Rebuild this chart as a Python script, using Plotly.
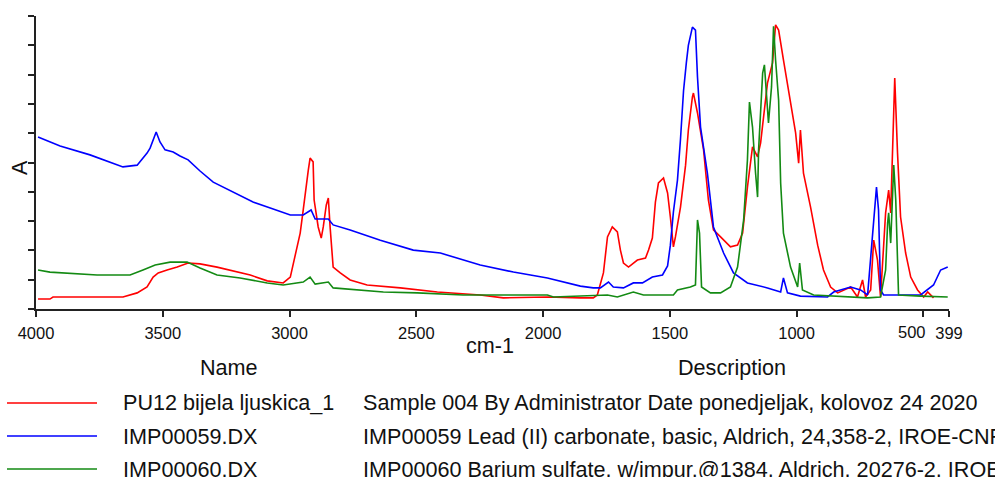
import plotly.graph_objects as go

# ---------------- data ----------------
x_tick_vals = [4000, 3500, 3000, 2500, 2000, 1500, 1000, 500, 399]
x_tick_text = ["4000", "3500", "3000", "2500", "2000", "1500", "1000", "500", "399"]

names = ["PU12 bijela ljuskica_1", "IMP00059.DX", "IMP00060.DX"]
descriptions = [
    "Sample 004 By Administrator Date ponedjeljak, kolovoz 24 2020",
    "IMP00059 Lead (II) carbonate, basic, Aldrich, 24,358-2, IROE-CNR",
    "IMP00060 Barium sulfate, w/impur.@1384, Aldrich, 20276-2, IROE-CNR",
]

# Blue: IMP00059 (lead carbonate)
blue_wn = [3992, 3905, 3787, 3708, 3657, 3601, 3562, 3550, 3538, 3526, 3511, 3491, 3459,
           3432, 3400, 3353, 3301, 3222, 3144, 3076, 2997, 2946, 2915, 2899, 2847, 2828,
           2761, 2642, 2512, 2405, 2248, 2117, 1983, 1853, 1802, 1774, 1742, 1723, 1683,
           1644, 1608, 1569, 1529, 1509, 1498, 1486, 1470, 1458, 1446, 1435, 1427, 1411,
           1399, 1391, 1379, 1352, 1328, 1288, 1249, 1194, 1115, 1063, 1052, 1036, 985,
           878, 854, 787, 748, 720, 708, 696, 685, 677, 669, 657, 511, 460, 432, 404]
blue_a = [0.587, 0.556, 0.526, 0.502, 0.485, 0.491, 0.532, 0.549, 0.577, 0.604, 0.570, 0.543,
          0.536, 0.522, 0.509, 0.471, 0.433, 0.399, 0.365, 0.345, 0.321, 0.321, 0.338, 0.307,
          0.307, 0.287, 0.270, 0.235, 0.201, 0.191, 0.150, 0.126, 0.106, 0.078, 0.072, 0.072,
          0.092, 0.075, 0.072, 0.089, 0.089, 0.109, 0.116, 0.147, 0.218, 0.331, 0.440, 0.580,
          0.745, 0.840, 0.900, 0.962, 0.952, 0.792, 0.621, 0.464, 0.280, 0.191, 0.123, 0.089,
          0.072, 0.058, 0.106, 0.055, 0.044, 0.041, 0.058, 0.075, 0.065, 0.048, 0.177, 0.321,
          0.416, 0.338, 0.065, 0.048, 0.048, 0.082, 0.133, 0.143]

# Red: PU12 bijela ljuskica_1 (sample)
red_wn = [3992, 3945, 3933, 3657, 3601, 3562, 3538, 3518, 3483, 3443, 3400, 3353, 3286,
          3222, 3155, 3088, 3025, 2997, 2978, 2958, 2946, 2934, 2926, 2919, 2907, 2903,
          2887, 2875, 2867, 2855, 2847, 2840, 2828, 2800, 2761, 2694, 2563, 2417, 2248,
          2157, 1983, 1853, 1802, 1786, 1762, 1746, 1727, 1707, 1695, 1683, 1663, 1628,
          1596, 1584, 1569, 1557, 1545, 1525, 1509, 1498, 1486, 1478, 1458, 1438, 1427,
          1411, 1407, 1391, 1367, 1348, 1328, 1300, 1261, 1233, 1213, 1194, 1174, 1154,
          1142, 1115, 1095, 1083, 1071, 1052, 1024, 1004, 992, 985, 973, 945, 917, 894,
          866, 838, 787, 760, 740, 728, 708, 696, 681, 669, 649, 637, 629, 617, 613, 602,
          590, 570, 550, 523, 499, 483, 460]
red_a = [0.034, 0.034, 0.041, 0.041, 0.055, 0.075, 0.109, 0.123, 0.133, 0.143, 0.157, 0.154,
         0.143, 0.130, 0.116, 0.096, 0.089, 0.109, 0.177, 0.259, 0.338, 0.430, 0.474, 0.515,
         0.502, 0.372, 0.280, 0.242, 0.280, 0.355, 0.379, 0.280, 0.143, 0.123, 0.099, 0.082,
         0.072, 0.058, 0.048, 0.038, 0.041, 0.038, 0.038, 0.048, 0.123, 0.246, 0.280, 0.263,
         0.201, 0.157, 0.143, 0.167, 0.174, 0.201, 0.242, 0.365, 0.430, 0.447, 0.396, 0.314,
         0.212, 0.246, 0.348, 0.491, 0.611, 0.724, 0.737, 0.669, 0.543, 0.372, 0.270, 0.246,
         0.212, 0.218, 0.259, 0.416, 0.553, 0.519, 0.567, 0.771, 0.840, 0.970, 0.952, 0.850,
         0.713, 0.601, 0.498, 0.611, 0.464, 0.348, 0.218, 0.133, 0.075, 0.055, 0.075, 0.041,
         0.099, 0.041, 0.065, 0.235, 0.167, 0.041, 0.328, 0.406, 0.328, 0.724, 0.788, 0.532,
         0.314, 0.191, 0.109, 0.065, 0.041, 0.058, 0.038]

# Green: IMP00060 (barium sulfate)
green_wn = [3992, 3945, 3759, 3629, 3578, 3530, 3471, 3404, 3353, 3286, 3195, 3088, 3025,
            2946, 2919, 2899, 2847, 2828, 2630, 2496, 2315, 1983, 1959, 1746, 1707, 1644,
            1604, 1486, 1470, 1419, 1399, 1391, 1383, 1375, 1340, 1300, 1261, 1233, 1209,
            1194, 1186, 1174, 1162, 1154, 1150, 1134, 1127, 1119, 1111, 1099, 1091, 1083,
            1071, 1063, 1052, 1024, 996, 988, 977, 933, 720, 669, 649, 641, 637, 629, 617,
            609, 602, 598, 511, 404]
green_a = [0.133, 0.126, 0.116, 0.116, 0.133, 0.150, 0.160, 0.160, 0.140, 0.116, 0.106, 0.089,
           0.082, 0.092, 0.109, 0.085, 0.092, 0.072, 0.058, 0.055, 0.048, 0.048, 0.041, 0.048,
           0.041, 0.058, 0.048, 0.048, 0.065, 0.075, 0.082, 0.304, 0.259, 0.075, 0.055, 0.055,
           0.075, 0.143, 0.304, 0.509, 0.706, 0.621, 0.464, 0.382, 0.543, 0.805, 0.833, 0.713,
           0.635, 0.758, 0.965, 0.850, 0.713, 0.430, 0.259, 0.143, 0.075, 0.157, 0.065, 0.048,
           0.038, 0.041, 0.133, 0.294, 0.328, 0.225, 0.491, 0.372, 0.123, 0.048, 0.044, 0.041]

colors = ["#ff0000", "#0000ff", "#138a13"]
series = [(red_wn, red_a), (blue_wn, blue_a), (green_wn, green_a)]

# ---------------- figure ----------------
FONT = "Liberation Sans, Arial, sans-serif"
TICKF = 16.5
fig = go.Figure()
for (wn, a), c, n in zip(series, colors, names):
    fig.add_trace(go.Scatter(x=wn, y=a, mode="lines", name=n,
                             line=dict(color=c, width=1.6), showlegend=False,
                             hoverinfo="x+y+name"))

W, H = 995, 477
ml, mr, mt, mb = 36, 46, 16, 168
pw, ph = W - ml - mr, H - mt - mb


def px_x(p):
    return (p - ml) / pw


def px_y(p):
    return (H - mb - p) / ph


# the "500" label is nudged left in the reference so it does not touch "399"
axis_text = [t if v != 500 else "" for v, t in zip(x_tick_vals, x_tick_text)]

fig.update_layout(
    width=W, height=H,
    margin=dict(l=ml, r=mr, t=mt, b=mb, pad=0),
    plot_bgcolor="white", paper_bgcolor="white",
    font=dict(family=FONT, color="#111111"),
    showlegend=False,
    xaxis=dict(range=[4000, 399], tickmode="array", tickvals=x_tick_vals,
               ticktext=axis_text, tickangle=0, ticks="outside", ticklen=6, tickwidth=1.5,
               tickcolor="#222", showline=True, linecolor="#222", linewidth=2,
               showgrid=False, zeroline=False, tickfont=dict(size=TICKF, color="#111"),
               ticklabelstandoff=2),
    yaxis=dict(range=[0, 1], tickmode="linear", tick0=0, dtick=0.1,
               showticklabels=False, ticks="outside", ticklen=6, tickwidth=1.5,
               tickcolor="#222", showline=True, linecolor="#222", linewidth=2,
               showgrid=False, zeroline=False),
)

TF = 21.6
ann = []
for v, t in zip(x_tick_vals, x_tick_text):
    if v == 500:
        ann.append(dict(text=t, x=v, xref="x", y=0, yref="paper", yanchor="top",
                        xanchor="center", xshift=-11, yshift=-12, showarrow=False,
                        font=dict(size=TICKF, color="#111")))
ann.append(dict(text="cm-1", x=px_x(490), y=px_y(345), xref="paper", yref="paper",
                xanchor="center", yanchor="middle", showarrow=False, font=dict(size=TF)))
ann.append(dict(text="A", x=px_x(20), y=px_y(168), xref="paper", yref="paper",
                xanchor="center", yanchor="middle", showarrow=False, textangle=-90,
                font=dict(size=TF)))
ann.append(dict(text="Name", x=px_x(229), y=px_y(367), xref="paper", yref="paper",
                xanchor="center", yanchor="middle", showarrow=False, font=dict(size=TF)))
ann.append(dict(text="Description", x=px_x(732), y=px_y(367), xref="paper", yref="paper",
                xanchor="center", yanchor="middle", showarrow=False, font=dict(size=TF)))

row_y = [403, 436, 469]
shapes = []
for i, (n, d, c) in enumerate(zip(names, descriptions, colors)):
    yy = px_y(row_y[i])
    shapes.append(dict(type="line", xref="paper", yref="paper",
                       x0=px_x(7), x1=px_x(97), y0=yy, y1=yy,
                       line=dict(color=c, width=1.6)))
    ann.append(dict(text=n, x=px_x(121), y=yy, xref="paper", yref="paper",
                    xanchor="left", yanchor="middle", showarrow=False, font=dict(size=TF)))
    ann.append(dict(text=d, x=px_x(361), y=yy, xref="paper", yref="paper",
                    xanchor="left", yanchor="middle", showarrow=False, font=dict(size=TF)))

fig.update_layout(annotations=ann, shapes=shapes)

fig.write_html("out.html", config={"displayModeBar": False},
               post_script="document.body.style.margin='0';document.body.style.overflow='hidden';")
